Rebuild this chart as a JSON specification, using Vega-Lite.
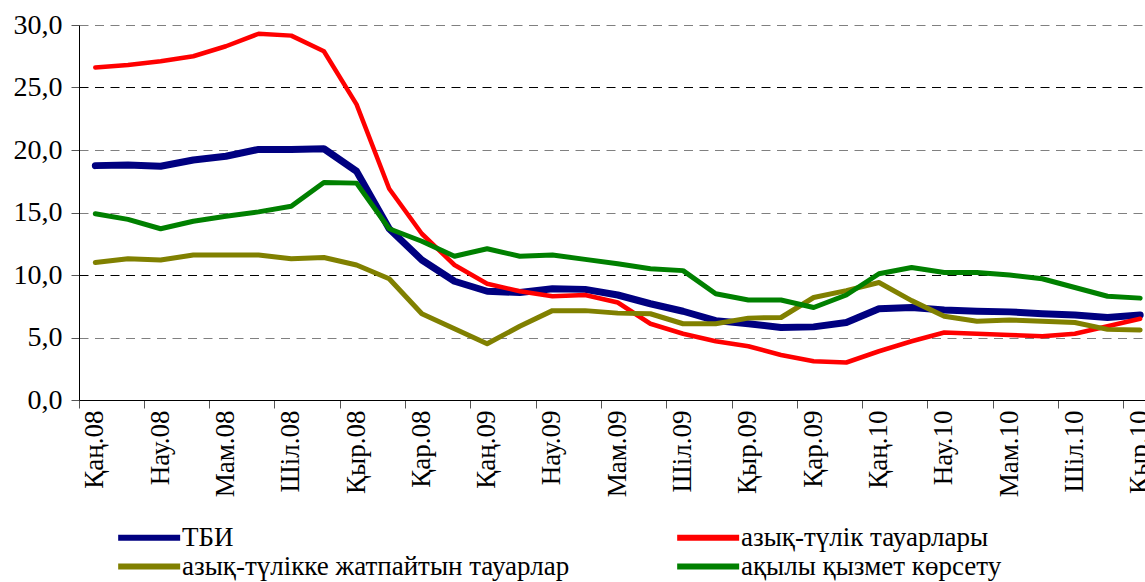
{
  "$schema": "https://vega.github.io/schema/vega-lite/v6.json",
  "autosize": "none",
  "width": 1066,
  "height": 375,
  "padding": {"left": 79, "top": 25, "right": 0, "bottom": 182},
  "background": "white",
  "config": {
    "view": {"stroke": null},
    "font": "Liberation Serif",
    "axis": {"labelFont": "Liberation Serif", "labelColor": "black"},
    "legend": {"labelFont": "Liberation Serif", "labelColor": "black"}
  },
  "data": {
    "values": [
      {"m":"Қаң.08","s":"ТБИ","v":18.75},{"m":"Ақп.08","s":"ТБИ","v":18.8},{"m":"Нау.08","s":"ТБИ","v":18.7},{"m":"Сәу.08","s":"ТБИ","v":19.2},{"m":"Мам.08","s":"ТБИ","v":19.5},{"m":"Мау.08","s":"ТБИ","v":20.05},{"m":"Шіл.08","s":"ТБИ","v":20.05},{"m":"Там.08","s":"ТБИ","v":20.1},{"m":"Қыр.08","s":"ТБИ","v":18.3},{"m":"Қаз.08","s":"ТБИ","v":13.7},{"m":"Қар.08","s":"ТБИ","v":11.2},{"m":"Жел.08","s":"ТБИ","v":9.5},
      {"m":"Қаң.09","s":"ТБИ","v":8.7},{"m":"Ақп.09","s":"ТБИ","v":8.6},{"m":"Нау.09","s":"ТБИ","v":8.9},{"m":"Сәу.09","s":"ТБИ","v":8.85},{"m":"Мам.09","s":"ТБИ","v":8.4},{"m":"Мау.09","s":"ТБИ","v":7.7},{"m":"Шіл.09","s":"ТБИ","v":7.1},{"m":"Там.09","s":"ТБИ","v":6.35},{"m":"Қыр.09","s":"ТБИ","v":6.1},{"m":"Қаз.09","s":"ТБИ","v":5.8},{"m":"Қар.09","s":"ТБИ","v":5.85},{"m":"Жел.09","s":"ТБИ","v":6.2},
      {"m":"Қаң.10","s":"ТБИ","v":7.3},{"m":"Ақп.10","s":"ТБИ","v":7.4},{"m":"Нау.10","s":"ТБИ","v":7.2},{"m":"Сәу.10","s":"ТБИ","v":7.1},{"m":"Мам.10","s":"ТБИ","v":7.05},{"m":"Мау.10","s":"ТБИ","v":6.9},{"m":"Шіл.10","s":"ТБИ","v":6.8},{"m":"Там.10","s":"ТБИ","v":6.6},{"m":"Қыр.10","s":"ТБИ","v":6.8},

      {"m":"Қаң.08","s":"азық-түлік тауарлары","v":26.6},{"m":"Ақп.08","s":"азық-түлік тауарлары","v":26.8},{"m":"Нау.08","s":"азық-түлік тауарлары","v":27.1},{"m":"Сәу.08","s":"азық-түлік тауарлары","v":27.5},{"m":"Мам.08","s":"азық-түлік тауарлары","v":28.3},{"m":"Мау.08","s":"азық-түлік тауарлары","v":29.3},{"m":"Шіл.08","s":"азық-түлік тауарлары","v":29.15},{"m":"Там.08","s":"азық-түлік тауарлары","v":27.9},{"m":"Қыр.08","s":"азық-түлік тауарлары","v":23.65},{"m":"Қаз.08","s":"азық-түлік тауарлары","v":16.9},{"m":"Қар.08","s":"азық-түлік тауарлары","v":13.3},{"m":"Жел.08","s":"азық-түлік тауарлары","v":10.8},
      {"m":"Қаң.09","s":"азық-түлік тауарлары","v":9.3},{"m":"Ақп.09","s":"азық-түлік тауарлары","v":8.7},{"m":"Нау.09","s":"азық-түлік тауарлары","v":8.3},{"m":"Сәу.09","s":"азық-түлік тауарлары","v":8.4},{"m":"Мам.09","s":"азық-түлік тауарлары","v":7.8},{"m":"Мау.09","s":"азық-түлік тауарлары","v":6.1},{"m":"Шіл.09","s":"азық-түлік тауарлары","v":5.3},{"m":"Там.09","s":"азық-түлік тауарлары","v":4.7},{"m":"Қыр.09","s":"азық-түлік тауарлары","v":4.3},{"m":"Қаз.09","s":"азық-түлік тауарлары","v":3.6},{"m":"Қар.09","s":"азық-түлік тауарлары","v":3.1},{"m":"Жел.09","s":"азық-түлік тауарлары","v":3.0},
      {"m":"Қаң.10","s":"азық-түлік тауарлары","v":3.9},{"m":"Ақп.10","s":"азық-түлік тауарлары","v":4.7},{"m":"Нау.10","s":"азық-түлік тауарлары","v":5.4},{"m":"Сәу.10","s":"азық-түлік тауарлары","v":5.3},{"m":"Мам.10","s":"азық-түлік тауарлары","v":5.2},{"m":"Мау.10","s":"азық-түлік тауарлары","v":5.1},{"m":"Шіл.10","s":"азық-түлік тауарлары","v":5.3},{"m":"Там.10","s":"азық-түлік тауарлары","v":5.9},{"m":"Қыр.10","s":"азық-түлік тауарлары","v":6.5},

      {"m":"Қаң.08","s":"азық-түлікке жатпайтын тауарлар","v":11.0},{"m":"Ақп.08","s":"азық-түлікке жатпайтын тауарлар","v":11.3},{"m":"Нау.08","s":"азық-түлікке жатпайтын тауарлар","v":11.2},{"m":"Сәу.08","s":"азық-түлікке жатпайтын тауарлар","v":11.6},{"m":"Мам.08","s":"азық-түлікке жатпайтын тауарлар","v":11.6},{"m":"Мау.08","s":"азық-түлікке жатпайтын тауарлар","v":11.6},{"m":"Шіл.08","s":"азық-түлікке жатпайтын тауарлар","v":11.3},{"m":"Там.08","s":"азық-түлікке жатпайтын тауарлар","v":11.4},{"m":"Қыр.08","s":"азық-түлікке жатпайтын тауарлар","v":10.8},{"m":"Қаз.08","s":"азық-түлікке жатпайтын тауарлар","v":9.7},{"m":"Қар.08","s":"азық-түлікке жатпайтын тауарлар","v":6.9},{"m":"Жел.08","s":"азық-түлікке жатпайтын тауарлар","v":5.7},
      {"m":"Қаң.09","s":"азық-түлікке жатпайтын тауарлар","v":4.5},{"m":"Ақп.09","s":"азық-түлікке жатпайтын тауарлар","v":5.9},{"m":"Нау.09","s":"азық-түлікке жатпайтын тауарлар","v":7.15},{"m":"Сәу.09","s":"азық-түлікке жатпайтын тауарлар","v":7.15},{"m":"Мам.09","s":"азық-түлікке жатпайтын тауарлар","v":6.95},{"m":"Мау.09","s":"азық-түлікке жатпайтын тауарлар","v":6.9},{"m":"Шіл.09","s":"азық-түлікке жатпайтын тауарлар","v":6.1},{"m":"Там.09","s":"азық-түлікке жатпайтын тауарлар","v":6.1},{"m":"Қыр.09","s":"азық-түлікке жатпайтын тауарлар","v":6.55},{"m":"Қаз.09","s":"азық-түлікке жатпайтын тауарлар","v":6.6},{"m":"Қар.09","s":"азық-түлікке жатпайтын тауарлар","v":8.2},{"m":"Жел.09","s":"азық-түлікке жатпайтын тауарлар","v":8.75},
      {"m":"Қаң.10","s":"азық-түлікке жатпайтын тауарлар","v":9.4},{"m":"Ақп.10","s":"азық-түлікке жатпайтын тауарлар","v":7.95},{"m":"Нау.10","s":"азық-түлікке жатпайтын тауарлар","v":6.7},{"m":"Сәу.10","s":"азық-түлікке жатпайтын тауарлар","v":6.3},{"m":"Мам.10","s":"азық-түлікке жатпайтын тауарлар","v":6.4},{"m":"Мау.10","s":"азық-түлікке жатпайтын тауарлар","v":6.3},{"m":"Шіл.10","s":"азық-түлікке жатпайтын тауарлар","v":6.2},{"m":"Там.10","s":"азық-түлікке жатпайтын тауарлар","v":5.65},{"m":"Қыр.10","s":"азық-түлікке жатпайтын тауарлар","v":5.6},

      {"m":"Қаң.08","s":"ақылы қызмет көрсету","v":14.9},{"m":"Ақп.08","s":"ақылы қызмет көрсету","v":14.45},{"m":"Нау.08","s":"ақылы қызмет көрсету","v":13.7},{"m":"Сәу.08","s":"ақылы қызмет көрсету","v":14.3},{"m":"Мам.08","s":"ақылы қызмет көрсету","v":14.7},{"m":"Мау.08","s":"ақылы қызмет көрсету","v":15.05},{"m":"Шіл.08","s":"ақылы қызмет көрсету","v":15.5},{"m":"Там.08","s":"ақылы қызмет көрсету","v":17.4},{"m":"Қыр.08","s":"ақылы қызмет көрсету","v":17.35},{"m":"Қаз.08","s":"ақылы қызмет көрсету","v":13.7},{"m":"Қар.08","s":"ақылы қызмет көрсету","v":12.7},{"m":"Жел.08","s":"ақылы қызмет көрсету","v":11.5},
      {"m":"Қаң.09","s":"ақылы қызмет көрсету","v":12.1},{"m":"Ақп.09","s":"ақылы қызмет көрсету","v":11.5},{"m":"Нау.09","s":"ақылы қызмет көрсету","v":11.6},{"m":"Сәу.09","s":"ақылы қызмет көрсету","v":11.25},{"m":"Мам.09","s":"ақылы қызмет көрсету","v":10.9},{"m":"Мау.09","s":"ақылы қызмет көрсету","v":10.5},{"m":"Шіл.09","s":"ақылы қызмет көрсету","v":10.35},{"m":"Там.09","s":"ақылы қызмет көрсету","v":8.5},{"m":"Қыр.09","s":"ақылы қызмет көрсету","v":8.0},{"m":"Қаз.09","s":"ақылы қызмет көрсету","v":8.0},{"m":"Қар.09","s":"ақылы қызмет көрсету","v":7.4},{"m":"Жел.09","s":"ақылы қызмет көрсету","v":8.4},
      {"m":"Қаң.10","s":"ақылы қызмет көрсету","v":10.1},{"m":"Ақп.10","s":"ақылы қызмет көрсету","v":10.6},{"m":"Нау.10","s":"ақылы қызмет көрсету","v":10.2},{"m":"Сәу.10","s":"ақылы қызмет көрсету","v":10.2},{"m":"Мам.10","s":"ақылы қызмет көрсету","v":10.0},{"m":"Мау.10","s":"ақылы қызмет көрсету","v":9.7},{"m":"Шіл.10","s":"ақылы қызмет көрсету","v":9.0},{"m":"Там.10","s":"ақылы қызмет көрсету","v":8.3},{"m":"Қыр.10","s":"ақылы қызмет көрсету","v":8.15}
    ]
  },
  "encoding": {
    "x": {
      "field": "m",
      "type": "ordinal",
      "sort": null,
      "bandPosition": 0.5,
      "scale": {
        "type": "band",
        "domain": ["Қаң.08","Ақп.08","Нау.08","Сәу.08","Мам.08","Мау.08","Шіл.08","Там.08","Қыр.08","Қаз.08","Қар.08","Жел.08","Қаң.09","Ақп.09","Нау.09","Сәу.09","Мам.09","Мау.09","Шіл.09","Там.09","Қыр.09","Қаз.09","Қар.09","Жел.09","Қаң.10","Ақп.10","Нау.10","Сәу.10","Мам.10","Мау.10","Шіл.10","Там.10","Қыр.10"],
        "range": [0, 1077.5],
        "paddingInner": 0,
        "paddingOuter": 0
      },
      "axis": {
        "title": null,
        "values": ["Қаң.08","Нау.08","Мам.08","Шіл.08","Қыр.08","Қар.08","Қаң.09","Нау.09","Мам.09","Шіл.09","Қыр.09","Қар.09","Қаң.10","Нау.10","Мам.10","Шіл.10","Қыр.10"],
        "bandPosition": 0,
        "labelOffset": 0,
        "labelAngle": -90,
        "labelAlign": "right",
        "labelBaseline": "middle",
        "labelFont": "Liberation Serif",
        "labelFontSize": 27,
        "labelPadding": 2,
        "tickSize": 8,
        "tickColor": "#555555",
        "domainColor": "black",
        "domainWidth": 1,
        "grid": false,
        "labelOverlap": false
      }
    },
    "y": {
      "field": "v",
      "type": "quantitative",
      "scale": {"domain": [0, 30], "nice": false, "zero": true},
      "axis": {
        "title": null,
        "values": [0, 5, 10, 15, 20, 25, 30],
        "labelExpr": "replace(format(datum.value, '.1f'), '.', ',')",
        "labelFont": "Liberation Serif",
        "labelFontSize": 28,
        "labelPadding": 9,
        "tickSize": 8,
        "tickColor": "#555555",
        "domainColor": "black",
        "grid": true,
        "gridColor": {"condition": {"test": "datum.value === 10 || datum.value === 25", "value": "#000000"}, "value": "#808080"},
        "gridDash": [9, 6.5],
        "gridWidth": 1
      }
    },
    "color": {
      "field": "s",
      "type": "nominal",
      "scale": {
        "domain": ["ТБИ", "азық-түлік тауарлары", "азық-түлікке жатпайтын тауарлар", "ақылы қызмет көрсету"],
        "range": ["#000080", "#FF0000", "#808000", "#008000"]
      },
      "legend": {
        "title": null,
        "orient": "none",
        "legendX": 36,
        "legendY": 499,
        "direction": "horizontal",
        "columns": 2,
        "columnPadding": 95,
        "rowPadding": 1,
        "symbolType": "M-1,0H5",
        "symbolSize": 427,
        "symbolStrokeWidth": 6,
        "labelFont": "Liberation Serif",
        "labelColor": "black",
        "labelFontSize": 27,
        "labelOffset": 40,
        "labelLimit": 600
      }
    }
  },
  "layer": [
    {"transform": [{"filter": "datum.s === 'ТБИ'"}], "mark": {"type": "line", "strokeWidth": 7, "strokeJoin": "round", "strokeCap": "round"}},
    {"transform": [{"filter": "datum.s === 'азық-түлік тауарлары'"}], "mark": {"type": "line", "strokeWidth": 4.5, "strokeJoin": "round", "strokeCap": "round"}},
    {"transform": [{"filter": "datum.s === 'азық-түлікке жатпайтын тауарлар'"}], "mark": {"type": "line", "strokeWidth": 5, "strokeJoin": "round", "strokeCap": "round"}},
    {"transform": [{"filter": "datum.s === 'ақылы қызмет көрсету'"}], "mark": {"type": "line", "strokeWidth": 5, "strokeJoin": "round", "strokeCap": "round"}}
  ]
}
